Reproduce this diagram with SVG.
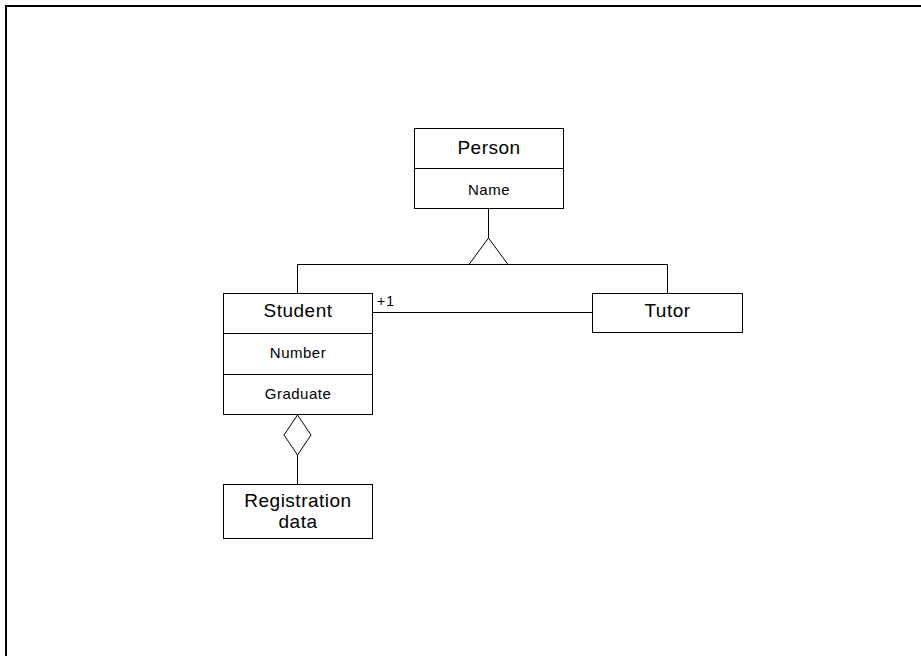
<svg xmlns="http://www.w3.org/2000/svg" width="921" height="656" viewBox="0 0 921 656">
<style>
.box{fill:#fff;stroke:#000;stroke-width:1}
.ln{fill:none;stroke:#000;stroke-width:1}
.t{font-family:"Liberation Sans",Arial,sans-serif;fill:#000;text-anchor:middle;letter-spacing:0.5px}
.big{font-size:19px}
.sm{font-size:15px}
.lbl{font-family:"Liberation Sans",Arial,sans-serif;font-size:14px;letter-spacing:1px;fill:#000}
</style>
<rect width="921" height="656" fill="#fff"/>
<path d="M6 656 V6 H921" fill="none" stroke="#000" stroke-width="2"/>
<g id="connectors">
<path class="ln" d="M488.5 209 V238"/>
<path class="ln" d="M488.5 238 L469 264.5 H508 Z"/>
<path class="ln" d="M297.5 293 V264.5 H667.5 V293"/>
<path class="ln" d="M373 312.5 H592"/>
<text class="lbl" x="377" y="306">+1</text>
<path class="ln" d="M297.5 415 L311 435 L297.5 455 L284 435 Z"/>
<path class="ln" d="M297.5 455 V484"/>
</g>
<g id="person">
<rect class="box" x="414.5" y="128.5" width="149" height="80"/>
<path class="ln" d="M414.5 168.5 H563.5"/>
<text class="t big" x="489" y="154">Person</text>
<text class="t sm" x="489" y="195">Name</text>
</g>
<g id="student">
<rect class="box" x="223.5" y="293.5" width="149" height="121"/>
<path class="ln" d="M223.5 333.5 H372.5 M223.5 374.5 H372.5"/>
<text class="t big" x="298" y="317">Student</text>
<text class="t sm" x="298" y="358">Number</text>
<text class="t sm" x="298" y="399">Graduate</text>
</g>
<g id="tutor">
<rect class="box" x="592.5" y="293.5" width="150" height="39"/>
<text class="t big" x="667.5" y="317">Tutor</text>
</g>
<g id="registration">
<rect class="box" x="223.5" y="484.5" width="149" height="54"/>
<text class="t big" x="298" y="507">Registration</text>
<text class="t big" x="298" y="528">data</text>
</g>
</svg>
